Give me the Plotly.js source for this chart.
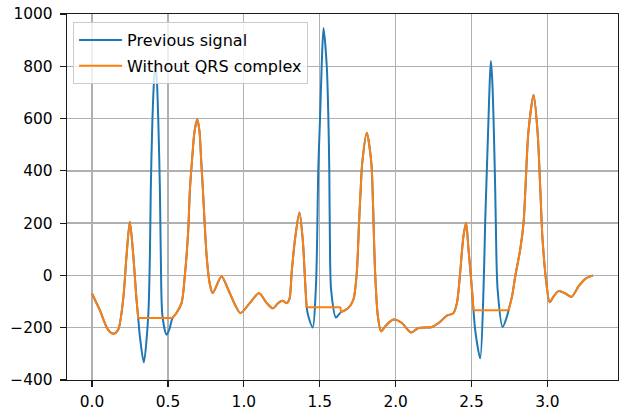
<!DOCTYPE html>
<html>
<head>
<meta charset="utf-8">
<script src="https://cdn.plot.ly/plotly-3.0.1.min.js"></script>
<style>
  html, body { margin: 0; padding: 0; background: #fff; }
  #chart { width: 620px; height: 410px; }
</style>
</head>
<body>
<div id="chart"></div>
<script>
// ECG trace (seconds) before QRS removal
const timeSec = [
  0.000, 0.050, 0.106, 0.143, 0.172, 0.205, 0.227, 0.249, 0.270, 0.293,
  0.304, 0.315, 0.341, 0.370, 0.381, 0.387, 0.398, 0.410, 0.418, 0.426,
  0.436, 0.447, 0.453, 0.464, 0.491, 0.510, 0.530, 0.557, 0.590, 0.611,
  0.633, 0.645, 0.660, 0.675, 0.693, 0.708, 0.718, 0.730, 0.755, 0.775,
  0.795, 0.853, 0.897, 0.941, 0.978, 1.040, 1.100, 1.150, 1.192, 1.227,
  1.256, 1.282, 1.300, 1.315, 1.337, 1.366, 1.388, 1.403, 1.414, 1.425,
  1.454, 1.474, 1.483, 1.490, 1.502, 1.513, 1.525, 1.546, 1.557, 1.563,
  1.567, 1.575, 1.607, 1.625, 1.641, 1.660, 1.689, 1.722, 1.744, 1.759,
  1.770, 1.780, 1.810, 1.840, 1.850, 1.865, 1.883, 1.904, 1.931, 1.986,
  2.041, 2.102, 2.150, 2.239, 2.283, 2.338, 2.381, 2.404, 2.425, 2.447,
  2.464, 2.480, 2.503, 2.513, 2.524, 2.557, 2.579, 2.590, 2.598, 2.612,
  2.620, 2.628, 2.637, 2.645, 2.656, 2.660, 2.672, 2.705, 2.734, 2.744,
  2.767, 2.788, 2.821, 2.843, 2.855, 2.875, 2.909, 2.935, 2.953, 2.968,
  2.993, 3.015, 3.041, 3.074, 3.118, 3.158, 3.206, 3.250, 3.300
];
const previousSignal = [
  -70, -131, -208, -223, -208, -92, 74, 205, 88, -92,
  -161, -233, -333, -156, 74, 331, 600, 760, 805, 760,
  600, 331, 74, -156, -227, -205, -163, -143, -105, -3,
  165, 331, 450, 550, 597, 550, 450, 331, 74, -30,
  -67, -4, -54, -111, -144, -105, -68, -105, -126, -105,
  -97, -106, -92, 10, 138, 241, 138, -15, -122, -156,
  -199, -54, 138, 400, 600, 804, 946, 804, 600, 400,
  138, -54, -161, -150, -140, -135, -124, -92, 10, 203,
  331, 430, 546, 430, 292, 10, -156, -214, -195, -169,
  -182, -218, -201, -197, -182, -154, -144, -105, 10, 151,
  201, 100, -54, -133, -208, -317, -54, 203, 350, 600,
  742, 820, 742, 600, 330, 203, -54, -197, -156, -133,
  -80, -3, 100, 203, 331, 550, 690, 550, 331, 138,
  -28, -103, -80, -60, -69, -82, -41, -13, 0
];

// Same trace with each QRS complex replaced by a flat segment
const timeNoQrs = [
  0.000, 0.050, 0.106, 0.143, 0.172, 0.205, 0.227, 0.249, 0.270, 0.293,
  0.304, 0.530, 0.557, 0.590, 0.611,
  0.633, 0.645, 0.660, 0.675, 0.693, 0.708, 0.718, 0.730, 0.755, 0.775,
  0.795, 0.853, 0.897, 0.941, 0.978, 1.040, 1.100, 1.150, 1.192, 1.227,
  1.256, 1.282, 1.300, 1.315, 1.337, 1.366, 1.388, 1.403, 1.414,
  1.638, 1.641, 1.660, 1.689, 1.722, 1.744, 1.759,
  1.770, 1.780, 1.810, 1.840, 1.850, 1.865, 1.883, 1.904, 1.931, 1.986,
  2.041, 2.102, 2.150, 2.239, 2.283, 2.338, 2.381, 2.404, 2.425, 2.447,
  2.464, 2.480, 2.503, 2.513, 2.744,
  2.767, 2.788, 2.821, 2.843, 2.855, 2.875, 2.909, 2.935, 2.953, 2.968,
  2.993, 3.015, 3.041, 3.074, 3.118, 3.158, 3.206, 3.250, 3.300
];
const withoutQrs = [
  -70, -131, -208, -223, -208, -92, 74, 205, 88, -92,
  -163, -163, -143, -105, -3,
  165, 331, 450, 550, 597, 550, 450, 331, 74, -30,
  -67, -4, -54, -111, -144, -105, -68, -105, -126, -105,
  -97, -106, -92, 10, 138, 241, 138, -15, -122,
  -122, -140, -135, -124, -92, 10, 203,
  331, 430, 546, 430, 292, 10, -156, -214, -195, -169,
  -182, -218, -201, -197, -182, -154, -144, -105, 10, 151,
  201, 100, -54, -133, -133,
  -80, -3, 100, 203, 331, 550, 690, 550, 331, 138,
  -28, -103, -80, -60, -69, -82, -41, -13, 0
];

const seriesNames = ['Previous signal', 'Without QRS complex'];
const xTicks = [0.0, 0.5, 1.0, 1.5, 2.0, 2.5, 3.0];
const xTickText = ['0.0', '0.5', '1.0', '1.5', '2.0', '2.5', '3.0'];
const yTicks = [-400, -200, 0, 200, 400, 600, 800, 1000];

const BLUE = '#1f77b4';
const ORANGE = '#ff7f0e';
const tickFont = { family: 'DejaVu Sans, sans-serif', size: 15.4, color: '#000' };
const legendFont = { family: 'DejaVu Sans, sans-serif', size: 16, color: '#000' };

// Split a series into smooth pieces and straight flat runs, so the
// spline does not bulge around the corners of the flat segments.
function splitAtFlats(xs, ys) {
  const pieces = [];
  let start = 0;
  for (let i = 0; i < xs.length - 1; i++) {
    if (ys[i] === ys[i + 1]) {
      if (i > start) pieces.push({ x: xs.slice(start, i + 1), y: ys.slice(start, i + 1), flat: false });
      pieces.push({ x: [xs[i], xs[i + 1]], y: [ys[i], ys[i + 1]], flat: true });
      start = i + 1;
    }
  }
  if (start < xs.length - 1) pieces.push({ x: xs.slice(start), y: ys.slice(start), flat: false });
  return pieces;
}

const traces = [
  {
    x: timeSec, y: previousSignal, name: seriesNames[0],
    type: 'scatter', mode: 'lines', legendgroup: 'prev',
    line: { color: BLUE, width: 2, shape: 'spline', smoothing: 0.8 }
  }
];
splitAtFlats(timeNoQrs, withoutQrs).forEach((p, k) => {
  traces.push({
    x: p.x, y: p.y, name: seriesNames[1],
    type: 'scatter', mode: 'lines', legendgroup: 'noqrs',
    showlegend: k === 0,
    line: { color: ORANGE, width: 2, shape: p.flat ? 'linear' : 'spline', smoothing: 0.8 }
  });
});

const axisCommon = {
  showline: true, mirror: true, linecolor: '#1a1a1a', linewidth: 1.3,
  ticks: 'outside', ticklen: 6, tickwidth: 1.2, tickcolor: '#1a1a1a',
  showgrid: true, gridcolor: '#b0b0b0', gridwidth: 1.3,
  zeroline: false, tickfont: tickFont
};

const layout = {
  width: 620, height: 410,
  margin: { l: 67, r: 2, t: 14, b: 30 },
  paper_bgcolor: '#fff', plot_bgcolor: '#fff',
  font: tickFont,
  showlegend: true,
  legend: {
    x: 0.011, y: 0.978, xanchor: 'left', yanchor: 'top',
    bgcolor: 'rgba(255,255,255,0.8)', bordercolor: '#cccccc', borderwidth: 1,
    font: legendFont, itemwidth: 43, tracegroupgap: 2, traceorder: 'grouped'
  },
  xaxis: Object.assign({}, axisCommon, {
    range: [-0.165, 3.465], tickvals: xTicks, ticktext: xTickText,
    ticklabelstandoff: 1
  }),
  yaxis: Object.assign({}, axisCommon, {
    range: [-400, 1000], tickvals: yTicks, ticklabelstandoff: 4
  })
};

Plotly.newPlot('chart', traces, layout, { staticPlot: true, displayModeBar: false });
</script>
</body>
</html>
